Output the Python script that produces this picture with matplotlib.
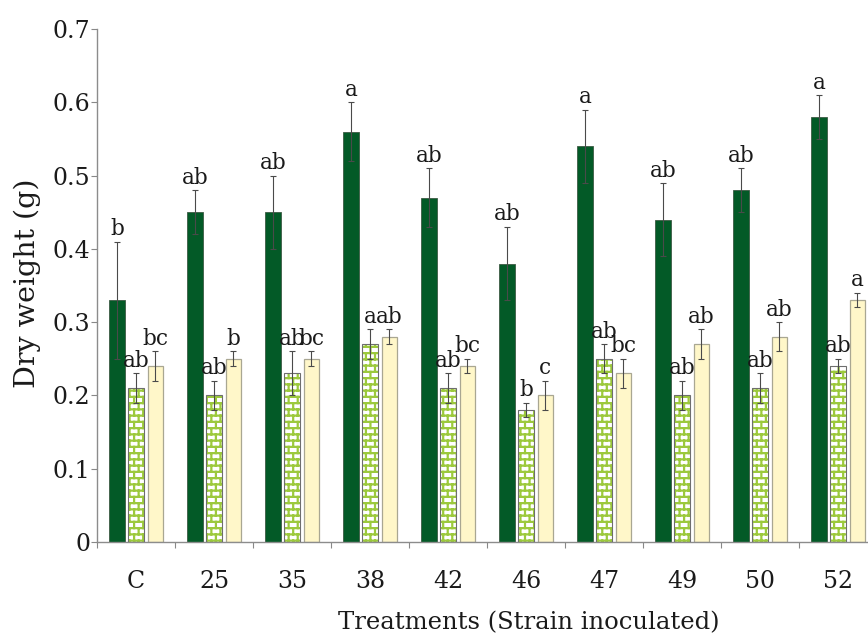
import warnings
import numpy as np
import matplotlib
matplotlib.use("Agg")
import matplotlib.pyplot as plt
import matplotlib.hatch as mhatch

warnings.filterwarnings("ignore")

# data
treatments = ["C", "25", "35", "38", "42", "46", "47", "49", "50", "52"]

green_vals = [0.33, 0.45, 0.45, 0.56, 0.47, 0.38, 0.54, 0.44, 0.48, 0.58]
green_err = [0.08, 0.03, 0.05, 0.04, 0.04, 0.05, 0.05, 0.05, 0.03, 0.03]
green_letters = ["b", "ab", "ab", "a", "ab", "ab", "a", "ab", "ab", "a"]

brick_vals = [0.21, 0.20, 0.23, 0.27, 0.21, 0.18, 0.25, 0.20, 0.21, 0.24]
brick_err = [0.02, 0.02, 0.03, 0.02, 0.02, 0.01, 0.02, 0.02, 0.02, 0.01]
brick_letters = ["ab", "ab", "ab", "a", "ab", "b", "ab", "ab", "ab", "ab"]

yellow_vals = [0.24, 0.25, 0.25, 0.28, 0.24, 0.20, 0.23, 0.27, 0.28, 0.33]
yellow_err = [0.02, 0.01, 0.01, 0.01, 0.01, 0.02, 0.02, 0.02, 0.02, 0.01]
yellow_letters = ["bc", "b", "bc", "ab", "bc", "c", "bc", "ab", "ab", "a"]


# brick hatch ('B'), not built into matplotlib
class BrickHatch(mhatch.HatchPatternBase):
    def __init__(self, hatch, density):
        n = hatch.count("B")
        self.segs = []
        if n:
            rows, cols = 16 * n, 11 * n
            h = 1.0 / rows
            for k in range(rows):
                y = (k + 0.5) * h
                self.segs.append(((0.0, y), (1.0, y)))
                off = 0.5 * (k % 2)
                for j in range(cols):
                    x = (j + off + 0.25) / cols
                    if k == rows - 1:
                        self.segs.append(((x, y), (x, 1.0)))
                        self.segs.append(((x, 0.0), (x, 0.5 * h)))
                    else:
                        self.segs.append(((x, y), (x, y + h)))
        self.num_vertices = 2 * len(self.segs)

    def set_vertices_and_codes(self, vertices, codes):
        for i, (a, b) in enumerate(self.segs):
            vertices[2 * i] = a
            vertices[2 * i + 1] = b
        codes[0::2] = matplotlib.path.Path.MOVETO
        codes[1::2] = matplotlib.path.Path.LINETO


mhatch._hatch_types.append(BrickHatch)

plt.rcParams["font.family"] = ["DejaVu Serif"]
plt.rcParams["hatch.linewidth"] = 1.6

fig = plt.figure(figsize=(8.68, 6.38), dpi=100)
ax = fig.add_axes([0.1118, 0.1505, 0.8986, 0.804])

x = np.arange(len(treatments))
w = 0.195
off = 0.245

ax.bar(x - off, green_vals, w, color="#035a27", edgecolor="#3d5a44", linewidth=0.6, zorder=2)
ax.bar(x, brick_vals, w, color="white", edgecolor="#9cc93c", linewidth=0, hatch="B", zorder=2)
ax.bar(x, brick_vals, w, fill=False, edgecolor="#6e6e6e", linewidth=0.8, zorder=3)
ax.bar(x + off, yellow_vals, w, color="#fff7c9", edgecolor="#a9a792", linewidth=0.9, zorder=2)

err_kw = dict(fmt="none", ecolor="#4a4a4a", elinewidth=0.8, capsize=2, capthick=0.8, zorder=4)
ax.errorbar(x - off, green_vals, yerr=green_err, **err_kw)
ax.errorbar(x, brick_vals, yerr=brick_err, **err_kw)
ax.errorbar(x + off, yellow_vals, yerr=yellow_err, **err_kw)

for pos, vals, errs, letters in [(x - off, green_vals, green_err, green_letters),
                                 (x, brick_vals, brick_err, brick_letters),
                                 (x + off, yellow_vals, yellow_err, yellow_letters)]:
    for xi, v, e, t in zip(pos, vals, errs, letters):
        ax.annotate(t, (xi, v + e), xytext=(0, 1), textcoords="offset points",
                    ha="center", va="bottom", fontsize=15.5, color="#1a1a1a", zorder=5)

ax.set_xlim(-0.5, len(treatments) - 0.5)
ax.set_ylim(0, 0.7)

ax.set_yticks(np.arange(0, 0.71, 0.1))
ax.set_yticklabels(["0", "0.1", "0.2", "0.3", "0.4", "0.5", "0.6", "0.7"])
ax.set_xticks(x)
ax.set_xticklabels(treatments)
ax.set_xticks(np.arange(-0.5, len(treatments)), minor=True)
ax.tick_params(axis="x", which="major", length=0, pad=20, labelsize=17, colors="#1a1a1a")
ax.tick_params(axis="x", which="minor", length=4, width=0.8, color="#888888", direction="out")
ax.tick_params(axis="y", length=4, width=0.8, color="#888888", pad=1, labelsize=17,
               labelcolor="#1a1a1a")

for s in ["top", "right"]:
    ax.spines[s].set_visible(False)
for s in ["left", "bottom"]:
    ax.spines[s].set_color("#8c8c8c")
    ax.spines[s].set_linewidth(1.0)

ax.set_ylabel("Dry weight (g)", fontsize=20.5, color="#1a1a1a")
ax.yaxis.set_label_coords(-0.072, 0.505)
ax.set_xlabel("Treatments (Strain inoculated)", fontsize=17.5, color="#1a1a1a")
ax.xaxis.set_label_coords(0.553, -0.134)

fig.savefig("out.png", dpi=100)
